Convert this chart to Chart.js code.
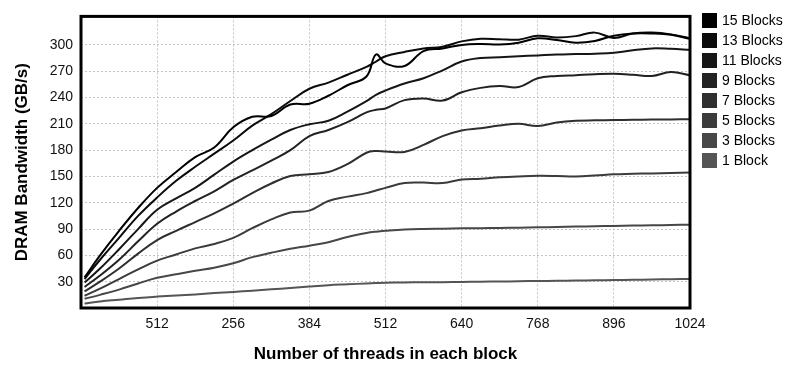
<!DOCTYPE html>
<html>
<head>
<meta charset="utf-8">
<script src="https://cdn.jsdelivr.net/npm/chart.js@4"></script>
<style>
  html, body { margin: 0; padding: 0; background: #fff; }
  #wrap { width: 789px; height: 365px; }
</style>
</head>
<body>
<div id="wrap"><canvas id="bwChart" width="789" height="365"></canvas></div>
<script>
// threads per block (x positions of the samples)
const threads = [6, 32, 64, 96, 128, 160, 192, 224, 256, 288, 320, 352, 384, 416, 448, 480, 496, 512,
                 544, 576, 608, 640, 672, 704, 736, 768, 800, 832, 864, 896, 928, 960, 992, 1024];

// bandwidth in GB/s for each block count
const blocks15 = [35, 60, 88, 114, 137, 155, 172, 183, 206, 218, 219, 232, 233, 242, 254, 264, 289, 279,
                  276, 293, 296, 300, 301, 300.5, 302.5, 307.5, 305.6, 302.5, 304.5, 310.5, 313, 313, 311.5, 307];
const blocks13 = [33, 55, 80, 105, 126, 145, 161, 176, 191, 208, 221, 236, 250, 257, 266, 275, 281, 287,
                  292, 296, 298, 304, 307, 306.5, 306, 310.5, 308.5, 310, 314, 308, 313, 314, 312, 307.5];
const blocks11 = [29, 45, 67, 90, 112, 125, 137, 152, 167, 180, 192, 203, 209.5, 213.5, 224, 236, 243, 248,
                  256, 262, 271, 281, 285, 286, 287, 288, 289, 289.5, 290, 291, 294, 296, 295.5, 294.5];
const blocks9  = [24, 37, 55, 76, 96, 110, 122, 133, 146, 157, 168, 180, 196, 203, 212, 223, 226, 227.5,
                  237, 239, 236.5, 246, 251, 253, 252, 262, 264.5, 265.5, 266.5, 267, 266, 264.5, 269, 265.5];
const blocks7  = [19, 30, 45, 62, 77.5, 88, 98, 108, 119, 131, 142, 150.5, 152.5, 155, 164, 177, 179, 178.5,
                  178, 186, 196, 202.5, 205, 208, 210, 207.5, 211.5, 213.5, 214, 214.3, 214.6, 214.8, 215, 215.2];
const blocks5  = [14, 22, 33, 44, 54, 61, 68, 73, 80, 91, 101, 109, 111, 122, 127, 131, 134, 137,
                  142.5, 143, 142.5, 146.5, 147.5, 149, 150, 150.7, 150.5, 150, 151, 152.5, 153, 153.5, 154, 154.5];
const blocks3  = [10.5, 15, 21, 28, 34.5, 38.5, 42.5, 46, 51, 58, 63, 67.5, 71, 75, 81, 85.5, 87, 88,
                  89.5, 90.2, 90.5, 90.8, 91, 91.2, 91.6, 92, 92.4, 92.8, 93.2, 93.6, 94, 94.3, 94.6, 95];
const blocks1  = [5, 7.5, 9.5, 11.5, 13, 14.2, 15.5, 17, 18.3, 19.8, 21.3, 22.8, 24.5, 26, 27, 28, 28.4, 28.8,
                  29.2, 29.4, 29.5, 29.7, 30, 30.2, 30.5, 30.8, 31, 31.3, 31.6, 31.9, 32.2, 32.5, 32.8, 33.2];

const seriesNames  = ['15 Blocks', '13 Blocks', '11 Blocks', '9 Blocks', '7 Blocks', '5 Blocks', '3 Blocks', '1 Block'];
const seriesValues = [blocks15, blocks13, blocks11, blocks9, blocks7, blocks5, blocks3, blocks1];
const seriesColors = ['#000000', '#0b0b0b', '#161616', '#222222', '#2f2f2f', '#3b3b3b', '#474747', '#555555'];

// x tick labels for 128, 256, ... 1024
const xTickLabels = ['512', '256', '384', '512', '640', '768', '896', '1024'];

const FONT = '"Liberation Sans", Arial, Helvetica, sans-serif';

// thick black box round the plot area
const frameBox = {
  id: 'frameBox',
  afterDatasetsDraw(chart) {
    const { ctx, chartArea: a } = chart;
    ctx.save();
    ctx.strokeStyle = '#000';
    ctx.lineWidth = 3;
    ctx.strokeRect(a.left, a.top, a.right - a.left, a.bottom - a.top);
    ctx.restore();
  }
};

// legend column on the right: square swatch + label
const sideLegend = {
  id: 'sideLegend',
  afterDraw(chart) {
    const ctx = chart.ctx;
    ctx.save();
    ctx.font = '14px ' + FONT;
    ctx.textBaseline = 'middle';
    ctx.textAlign = 'left';
    chart.data.datasets.forEach((ds, i) => {
      const y = 20 + i * 20;
      ctx.fillStyle = ds.borderColor;
      ctx.fillRect(702, y - 7, 15, 15);
      ctx.fillStyle = '#000';
      ctx.fillText(ds.label, 722, y + 1);
    });
    ctx.restore();
  }
};

const ctx = document.getElementById('bwChart').getContext('2d');
new Chart(ctx, {
  type: 'line',
  data: {
    datasets: seriesNames.map((name, i) => ({
      label: name,
      data: threads.map((t, j) => ({ x: t, y: seriesValues[i][j] })),
      borderColor: seriesColors[i],
      backgroundColor: seriesColors[i],
      borderWidth: 2,
      pointRadius: 0,
      tension: 0.4,
      fill: false
    }))
  },
  options: {
    responsive: false,
    animation: false,
    layout: { padding: { left: 0, top: 11, right: 99, bottom: 0 } },
    plugins: {
      legend: { display: false },
      tooltip: { enabled: false }
    },
    scales: {
      x: {
        type: 'linear',
        min: 0,
        max: 1024,
        afterFit(scale) { scale.height = 57; },
        border: { display: false, dash: [2, 2] },
        grid: {
          drawTicks: false,
          color: '#c4c4c4',
          lineWidth: 1
        },
        ticks: {
          stepSize: 128,
          autoSkip: false,
          maxRotation: 0,
          padding: 8,
          color: '#111',
          font: { family: FONT, size: 14 },
          callback: (v) => v === 0 ? '' : xTickLabels[v / 128 - 1]
        },
        title: {
          display: true,
          text: 'Number of threads in each block',
          color: '#000',
          font: { family: FONT, size: 17, weight: 'bold' },
          padding: { top: 0, bottom: 0 }
        }
      },
      y: {
        min: 0,
        max: 332.5,
        afterFit(scale) { scale.width = 81; },
        border: { display: false, dash: [2, 2] },
        grid: {
          drawTicks: false,
          color: (c) => (c.tick && c.tick.value > 300) ? 'rgba(0,0,0,0)' : '#c4c4c4',
          lineWidth: 1
        },
        ticks: {
          stepSize: 30,
          padding: 8,
          color: '#111',
          font: { family: FONT, size: 14 },
          callback: (v) => (v === 0 || v > 300) ? '' : v
        },
        title: {
          display: true,
          text: 'DRAM Bandwidth (GB/s)',
          color: '#000',
          font: { family: FONT, size: 17, weight: 'bold' },
          padding: { top: 12, bottom: 0 }
        }
      }
    }
  },
  plugins: [frameBox, sideLegend]
});
</script>
</body>
</html>
